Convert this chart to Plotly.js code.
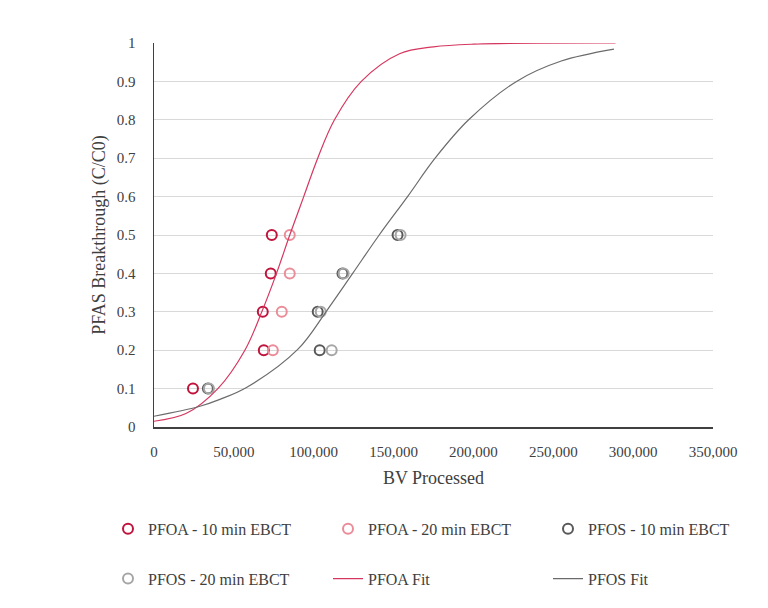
<!DOCTYPE html>
<html>
<head>
<meta charset="utf-8">
<script src="https://cdn.plot.ly/plotly-3.0.1.min.js"></script>
<style>html,body{margin:0;padding:0;background:#fff;}</style>
</head>
<body>
<div id="chart" style="width:768px;height:608px;"></div>
<script>
// Observed data (BV processed vs C/C0)
var pfoa10_x = [24400, 68750, 68100, 73100, 73750];
var pfoa10_y = [0.1, 0.2, 0.3, 0.4, 0.5];
var pfoa20_x = [74400, 80000, 85000, 85000];
var pfoa20_y = [0.2, 0.3, 0.4, 0.5];
var pfos10_x = [33750, 103750, 102500, 118000, 152500];
var pfos10_y = [0.1, 0.2, 0.3, 0.4, 0.5];
var pfos20_x = [34400, 111250, 104400, 118750, 154400];
var pfos20_y = [0.1, 0.2, 0.3, 0.4, 0.5];

// Fit curves
var pfoaFit_x = [0, 20000, 40000, 56900, 67500, 76700, 85000, 93750, 102500, 113000, 129800, 153750, 175000, 200000, 289000];
var pfoaFit_y = [0.015, 0.035, 0.1, 0.2, 0.3, 0.4, 0.5, 0.6, 0.7, 0.8, 0.9, 0.972, 0.99, 0.997, 1.0];
var pfosFit_x = [0, 28750, 41250, 57900, 90000, 108000, 124400, 141000, 158750, 176000, 197000, 227000, 255000, 288000];
var pfosFit_y = [0.028, 0.054, 0.072, 0.103, 0.202, 0.302, 0.4, 0.5, 0.6, 0.7, 0.8, 0.9, 0.953, 0.984];

var names = ['PFOA - 10 min EBCT', 'PFOA - 20 min EBCT', 'PFOS - 10 min EBCT',
             'PFOS - 20 min EBCT', 'PFOA Fit', 'PFOS Fit'];

var serif = 'Liberation Serif, Times New Roman, serif';

function pts(x, y, name, color, sym, leg) {
  return {x: x, y: y, name: name, type: 'scatter', mode: 'markers', legend: leg,
    marker: {symbol: sym, size: 10, color: color, line: {color: color, width: 2}},
    hoverinfo: 'x+y'};
}
function fit(x, y, name, color, leg) {
  return {x: x, y: y, name: name, type: 'scatter', mode: 'lines', legend: leg,
    line: {color: color, width: 1.2, shape: 'spline', smoothing: 1}};
}

var data = [
  pts(pfoa10_x, pfoa10_y, names[0], '#c0143c', 'circle-open', 'legend'),
  pts(pfoa20_x, pfoa20_y, names[1], '#ec8c98', 'circle-open', 'legend'),
  pts(pfos10_x, pfos10_y, names[2], '#595959', 'circle-open', 'legend'),
  pts(pfos20_x, pfos20_y, names[3], '#a6a6a6', 'circle-open', 'legend2'),
  fit(pfoaFit_x, pfoaFit_y, names[4], '#d6375f', 'legend2'),
  fit(pfosFit_x, pfosFit_y, names[5], '#6b6b6b', 'legend2')
];

var legendCommon = {
  orientation: 'h', xref: 'paper', yref: 'paper', xanchor: 'left', yanchor: 'middle',
  entrywidth: 175, entrywidthmode: 'pixels',
  font: {family: serif, size: 16, color: '#404040'},
  bgcolor: 'rgba(0,0,0,0)', traceorder: 'normal'
};

var layout = {
  width: 768, height: 608,
  paper_bgcolor: '#ffffff', plot_bgcolor: '#ffffff',
  margin: {l: 154, r: 55, t: 43, b: 178},
  font: {family: serif, color: '#404040'},
  showlegend: true,
  xaxis: {
    range: [0, 350000], dtick: 50000, tickformat: ',',
    showgrid: false, zeroline: false,
    showline: true, linecolor: '#404040', linewidth: 1.5,
    ticks: '', ticklabelstandoff: 10,
    tickfont: {family: serif, size: 15, color: '#404040'},
    title: {text: 'BV Processed', font: {family: serif, size: 18, color: '#404040'}, standoff: 13}
  },
  yaxis: {
    range: [0, 1], dtick: 0.1,
    showgrid: true, gridcolor: '#d9d9d9', gridwidth: 1,
    zeroline: false, showline: true, linecolor: '#404040', linewidth: 1.5,
    ticks: '', ticklabelstandoff: 14,
    tickfont: {family: serif, size: 15, color: '#404040'},
    title: {text: 'PFAS Breakthrough (C/C0)', font: {family: serif, size: 18, color: '#404040'}, standoff: 6}
  },
  legend: Object.assign({}, legendCommon, {x: -0.037, y: -0.265}),
  legend2: Object.assign({}, legendCommon, {x: -0.037, y: -0.395})
};

Plotly.newPlot('chart', data, layout, {displayModeBar: false, staticPlot: true});
</script>
</body>
</html>
